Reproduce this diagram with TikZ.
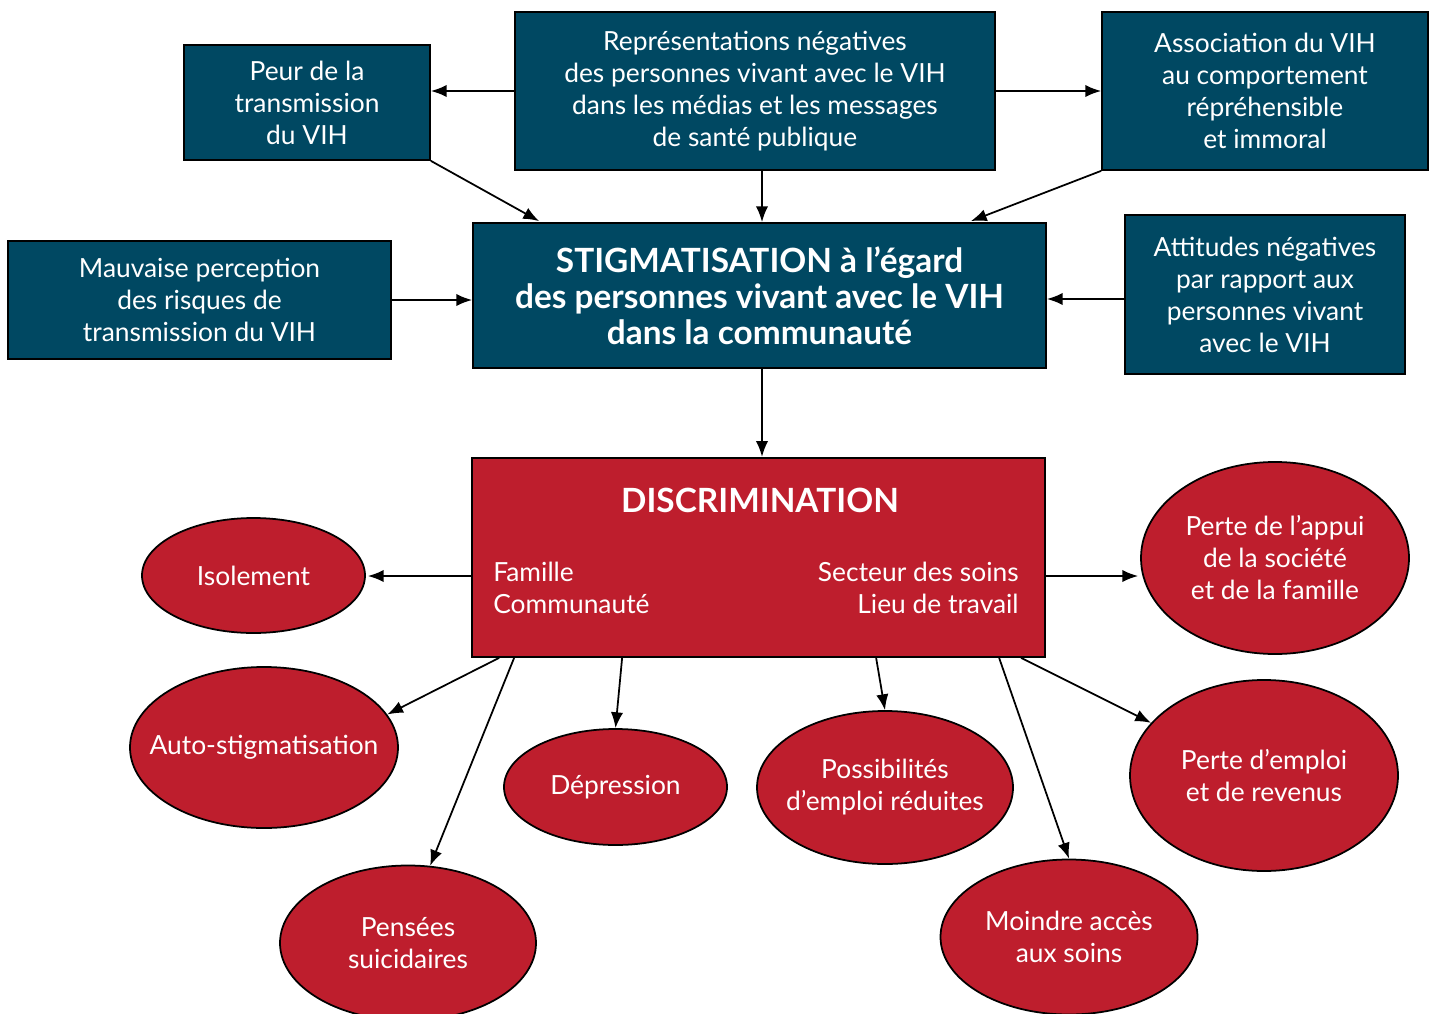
\documentclass[tikz,border=0pt]{standalone}
\usepackage{fontspec}
\setmainfont{Lato}
\usetikzlibrary{arrows.meta, positioning, shapes.geometric, calc}
\definecolor{vihblue}{RGB}{0,72,98}
\definecolor{vihred}{RGB}{190,30,45}
\tikzset{
  box/.style={draw=black, line width=1pt, fill=vihblue, text=white, align=center,
    inner sep=0pt, font=\fontsize{15}{18.2}\selectfont},
  bubble/.style={ellipse, draw=black, line width=1pt, fill=vihred, text=white, align=center,
    inner xsep=-0.6cm, inner ysep=0pt, font=\fontsize{15}{18.2}\selectfont},
  titlefont/.style={font=\fontsize{19}{20.5}\selectfont\bfseries},
  arr/.style={line width=1pt, -{Latex[length=9pt,width=7pt]}}
}

\begin{document}
\begin{tikzpicture}[x=0.02cm, y=-0.02cm]
        \useasboundingbox (0,0) rectangle (1434,1014);

        % causes
        \node[box, minimum width=246*0.02cm, minimum height=115*0.02cm] (peur) at (307,102.5)
            {Peur de la\\transmission\\du VIH};
        \node[box, minimum width=480*0.02cm, minimum height=158*0.02cm] (repr) at (755,91)
            {Représentations négatives\\des personnes vivant avec le VIH\\dans les médias et les messages\\de santé publique};
        \node[box, minimum width=326*0.02cm, minimum height=158*0.02cm] (assoc) at (1265,91)
            {Association du VIH\\au comportement\\répréhensible\\et immoral};
        \node[box, minimum width=383*0.02cm, minimum height=118*0.02cm] (mauv) at (199.5,300)
            {Mauvaise perception\\des risques de\\transmission du VIH};
        \node[box, minimum width=280*0.02cm, minimum height=159*0.02cm] (att) at (1265,294.5)
            {Attitudes négatives\\par rapport aux\\personnes vivant\\avec le VIH};
        \node[box, titlefont, minimum width=573*0.02cm, minimum height=145*0.02cm] (stig) at (759.5,295.5)
            {STIGMATISATION à l’égard\\des personnes vivant avec le VIH\\dans la communauté};

        % discrimination
        \node[box, fill=vihred, minimum width=573*0.02cm, minimum height=199*0.02cm] (discr) at (758.5,557.5) {};
        \node[text=white, titlefont] (titre) at (760,500) {DISCRIMINATION};
        \node[text=white, align=left, anchor=west, inner sep=0pt, font=\fontsize{15}{18.2}\selectfont] (gauche)
            at (493,588) {Famille\\Communauté};
        \node[text=white, align=right, anchor=east, inner sep=0pt, font=\fontsize{15}{18.2}\selectfont] (droite)
            at (1019,588) {Secteur des soins\\Lieu de travail};

        % consequences
        \node[bubble, minimum width=223*0.02cm, minimum height=115*0.02cm] (iso) at (253.5,575.5) {Isolement};
        \node[bubble, minimum width=268*0.02cm, minimum height=192*0.02cm] (appui) at (1275,558)
            {Perte de l’appui\\de la société\\et de la famille};
        \node[bubble, minimum width=268*0.02cm, minimum height=161*0.02cm] (auto) at (264,747.5) {Auto-stigmatisation};
        \node[bubble, minimum width=223*0.02cm, minimum height=116*0.02cm] (depr) at (615.5,787) {Dépression};
        \node[bubble, minimum width=256*0.02cm, minimum height=153*0.02cm] (poss) at (885,787.5)
            {Possibilités\\d’emploi réduites};
        \node[bubble, minimum width=268*0.02cm, minimum height=191*0.02cm] (emploi) at (1264,775.5)
            {Perte d’emploi\\et de revenus};
        \node[bubble, minimum width=256*0.02cm, minimum height=155*0.02cm] (pens) at (408,943)
            {Pensées\\suicidaires};
        \node[bubble, minimum width=257*0.02cm, minimum height=155*0.02cm] (moindre) at (1069,937)
            {Moindre accès\\aux soins};

        \draw[arr] (repr.west) -- (repr.west -| peur.east);
        \draw[arr] (repr.east) -- (repr.east -| assoc.west);
        \draw[arr] (peur.south east) -- ($(stig.north west)+(67,-1)$);
        \draw[arr] ($(stig.north)+(2.5,-53)$) -- ($(stig.north)+(2.5,0)$);
        \draw[arr] (assoc.south west) -- ($(stig.north east)+(-76,-1)$);
        \draw[arr] (mauv.east) -- (mauv.east -| stig.west);
        \draw[arr] ($(att.west)+(0,4.5)$) -- ($(att.west -| stig.east)+(0,4.5)$);
        \draw[arr] ($(stig.south)+(2.5,0)$) -- ($(stig.south)+(2.5,88)$);

        \draw[arr] ($(discr.west)+(0,18.5)$) -- ($(iso.east)+(2,0.5)$);
        \draw[arr] ($(discr.east)+(0,18.5)$) -- ($(appui.west)+(-2,18)$);
        \draw[arr] ($(discr.south west)+(28,0)$) -- (auto.15);
        \draw[arr] ($(discr.south west)+(43,0)$) -- (pens.74);
        \draw[arr] ($(discr.south west)+(151,0)$) -- (depr.north);
        \draw[arr] ($(discr.south west)+(405,0)$) -- (poss.north);
        \draw[arr] ($(discr.south west)+(528,0)$) -- (moindre.north);
        \draw[arr] ($(discr.south west)+(550,0)$) -- (emploi.155);
    \end{tikzpicture}
\end{document}
